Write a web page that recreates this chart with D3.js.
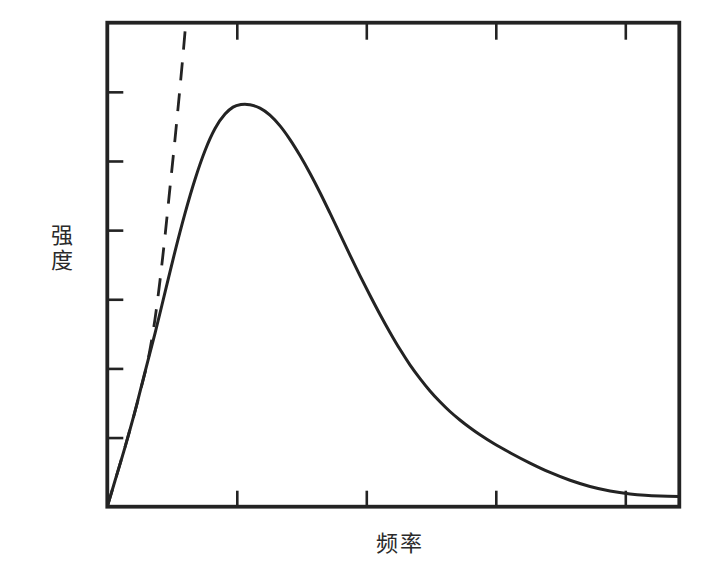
<!DOCTYPE html>
<html>
<head>
<meta charset="utf-8">
<script src="https://cdn.jsdelivr.net/npm/d3@7"></script>
<style>
  html, body { margin: 0; padding: 0; background: #fff; }
  svg { display: block; }
</style>
</head>
<body>
<svg id="chart" width="723" height="583"></svg>
<script>
// Spectrum (solid), in tick units
const freq = [0, 0.059, 0.137, 0.214, 0.291, 0.369, 0.446, 0.523, 0.600, 0.677, 0.755, 0.832, 0.909, 0.971, 1.032, 1.063, 1.102, 1.179, 1.256, 1.334, 1.411, 1.488, 1.565, 1.643, 1.720, 1.797, 1.874, 1.951, 2.029, 2.106, 2.183, 2.260, 2.337, 2.415, 2.492, 2.569, 2.646, 2.723, 2.801, 2.878, 2.994, 3.110, 3.264, 3.419, 3.573, 3.727, 3.882, 4.036, 4.152, 4.268, 4.414];
const intensity = [0, 0.371, 0.861, 1.381, 1.948, 2.511, 3.102, 3.694, 4.243, 4.733, 5.152, 5.469, 5.678, 5.779, 5.816, 5.822, 5.812, 5.765, 5.664, 5.508, 5.310, 5.079, 4.823, 4.541, 4.245, 3.942, 3.639, 3.343, 3.055, 2.781, 2.521, 2.276, 2.052, 1.853, 1.674, 1.517, 1.377, 1.254, 1.141, 1.039, 0.902, 0.781, 0.631, 0.495, 0.382, 0.293, 0.228, 0.185, 0.165, 0.154, 0.149];
// Classical curve (dashed)
const freqRJ = [0, 0.075, 0.152, 0.229, 0.276, 0.307, 0.338, 0.369, 0.407, 0.446, 0.484, 0.523, 0.561, 0.600, 0.606];
const intensityRJ = [0, 0.472, 0.962, 1.482, 1.828, 2.059, 2.362, 2.723, 3.271, 3.921, 4.613, 5.321, 6.056, 6.864, 7.0];
// Tick positions (no labels)
const xTicks = [1, 2, 3, 4];
const yTicks = [1, 2, 3, 4, 5, 6];
const xLabel = "频率";
const yLabel = "强度";

const svg = d3.select("#chart");
const L = 107.3, R = 679.3, T = 22.7, B = 506.7;
const x = d3.scaleLinear().domain([0, 4.417]).range([L, R]);
const y = d3.scaleLinear().domain([0, 7]).range([B, T]);
const ink = "#232323";

svg.append("defs").append("clipPath").attr("id", "plotclip")
  .append("rect").attr("x", L).attr("y", T).attr("width", R - L).attr("height", B - T);

function styleAxis(g) {
  g.select(".domain").remove();
  g.selectAll(".tick line").attr("stroke", ink).attr("stroke-width", 2.6);
  g.selectAll(".tick text").remove();
}

svg.append("g").attr("transform", `translate(0,${B})`)
  .call(d3.axisBottom(x).tickValues(xTicks).tickSize(-16).tickFormat(""))
  .call(styleAxis);
svg.append("g").attr("transform", `translate(0,${T})`)
  .call(d3.axisTop(x).tickValues(xTicks).tickSize(-17).tickFormat(""))
  .call(styleAxis);
svg.append("g").attr("transform", `translate(${L},0)`)
  .call(d3.axisLeft(y).tickValues(yTicks).tickSize(-16).tickFormat(""))
  .call(styleAxis);

const solid = freq.map((f, i) => [f, intensity[i]]);
const dashed = freqRJ.map((f, i) => [f, intensityRJ[i]]);

const line = d3.line().x(d => x(d[0])).y(d => y(d[1])).curve(d3.curveMonotoneX);

svg.append("path").datum(dashed)
  .attr("clip-path", "url(#plotclip)")
  .attr("d", line)
  .attr("fill", "none").attr("stroke", ink).attr("stroke-width", 2.8)
  .attr("stroke-dasharray", "18,13");

svg.append("path").datum(solid)
  .attr("clip-path", "url(#plotclip)")
  .attr("d", line)
  .attr("fill", "none").attr("stroke", ink).attr("stroke-width", 3);

svg.append("rect")
  .attr("x", L).attr("y", T).attr("width", R - L).attr("height", B - T)
  .attr("fill", "none").attr("stroke", ink).attr("stroke-width", 3.8);

const font = "'Noto Sans CJK SC', 'Noto Sans CJK JP', sans-serif";
svg.append("text").attr("x", 400).attr("y", 551)
  .attr("text-anchor", "middle").attr("font-family", font)
  .attr("letter-spacing", 2)
  .attr("font-size", 22).attr("fill", "#2a2a2a").text(xLabel);

svg.append("text")
  .attr("x", 62).attr("y", 249)
  .attr("text-anchor", "middle")
  .style("writing-mode", "vertical-rl")
  .attr("letter-spacing", 3)
  .attr("font-family", font)
  .attr("font-size", 22).attr("fill", "#2a2a2a").text(yLabel);
</script>
</body>
</html>
